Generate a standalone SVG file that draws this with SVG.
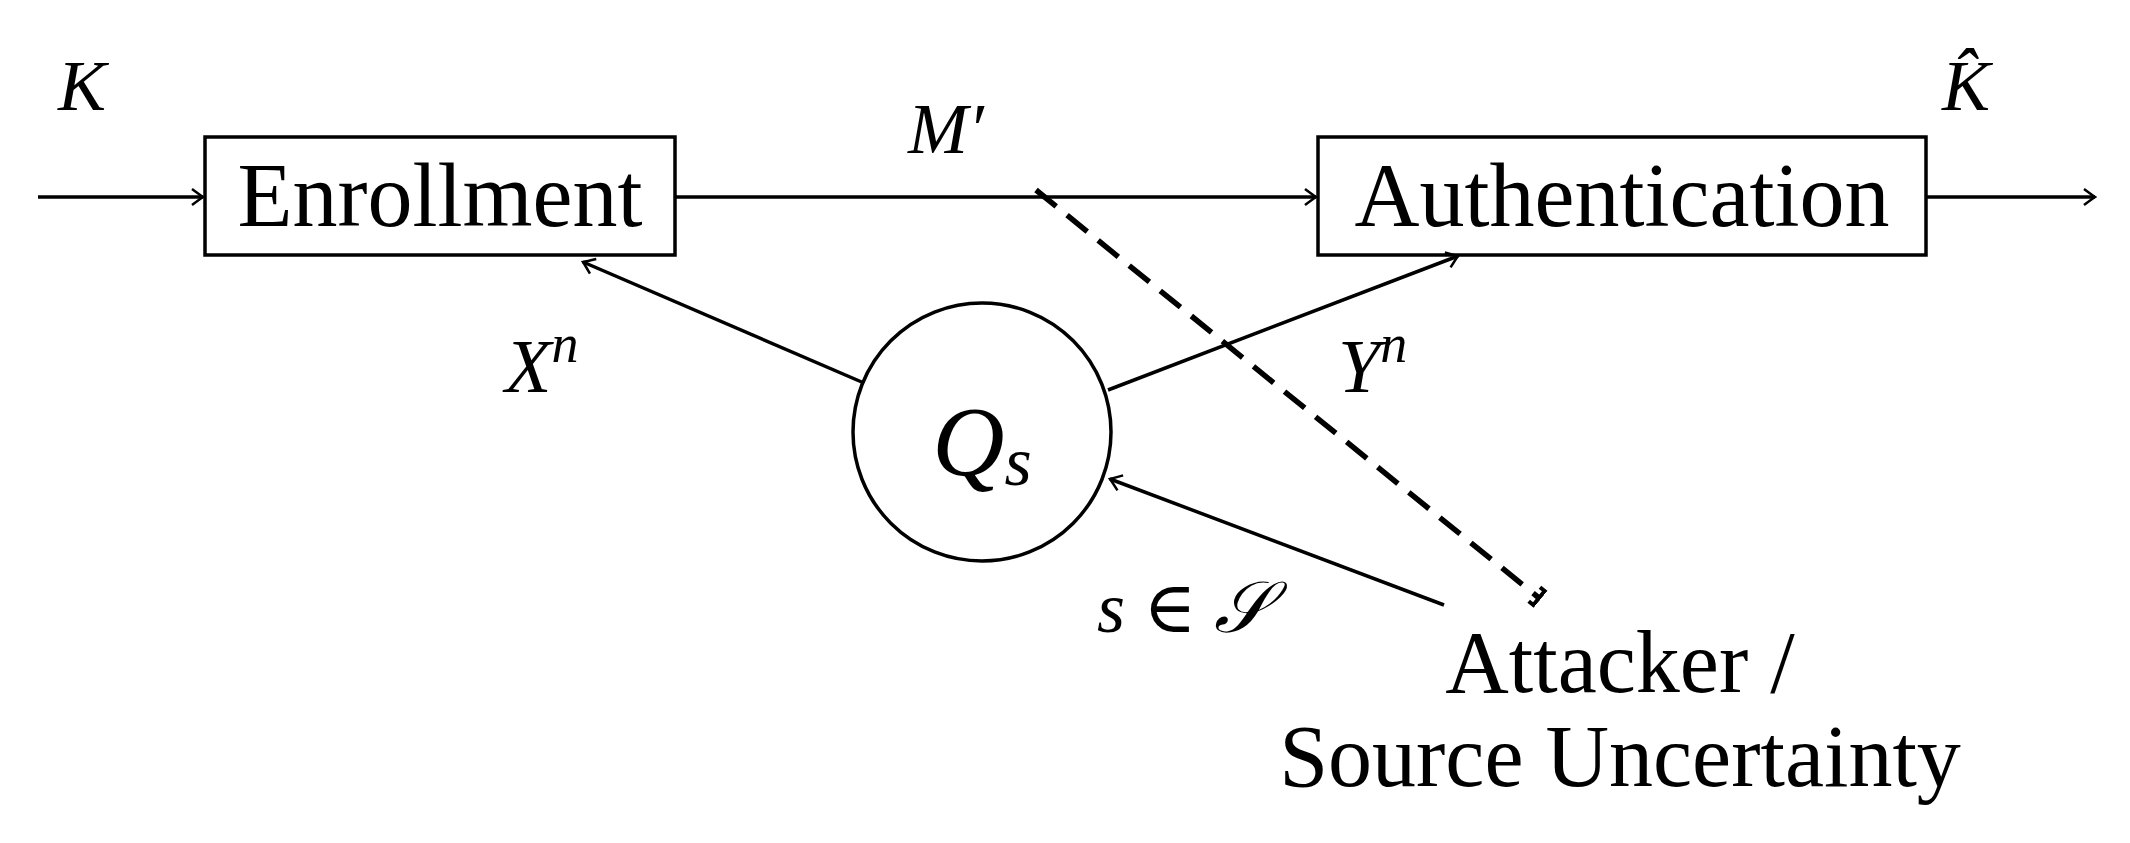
<svg xmlns="http://www.w3.org/2000/svg" width="2130" height="843" viewBox="0 0 2130 843">
<style>
.l{stroke:#000;stroke-width:3.5;fill:none}
.t{font-family:"Liberation Serif","DejaVu Serif",serif;fill:#000}
.m{font-family:"Liberation Serif","DejaVu Serif",serif;font-style:italic;fill:#000}
</style>
<defs>
<marker id="a" viewBox="-12 -10 14 20" markerWidth="14" markerHeight="20" refX="0" refY="0" orient="auto" markerUnits="userSpaceOnUse">
<path d="M-11,-8 Q-3,-2 0,0 Q-3,2 -11,8" fill="none" stroke="#000" stroke-width="2.5"/>
</marker>
<marker id="b" viewBox="-14 -12 16 24" markerWidth="16" markerHeight="24" refX="0" refY="0" orient="auto" markerUnits="userSpaceOnUse">
<path d="M-6,-9 L0,-9 L0,9 L-6,9" fill="none" stroke="#000" stroke-width="4"/>
</marker>
</defs>
<rect width="2130" height="843" fill="#fff"/>
<g id="enrollment"><rect x="205" y="137" width="470" height="118" class="l"/><text x="440" y="226" text-anchor="middle" class="t" font-size="90">Enrollment</text></g>
<g id="authentication"><rect x="1318" y="137" width="608" height="118" class="l"/><text x="1622" y="226" text-anchor="middle" class="t" font-size="90">Authentication</text></g>
<g id="qs"><circle cx="982" cy="432" r="129" class="l"/><text x="982" y="475" text-anchor="middle" class="m" font-size="100">Q<tspan font-size="70" dy="10">s</tspan></text></g>
<g id="attacker"><text x="1620" y="692" text-anchor="middle" class="t" font-size="88">Attacker /</text><text x="1620" y="786" text-anchor="middle" class="t" font-size="88">Source Uncertainty</text></g>
<g id="connectors">
<line x1="38" y1="197" x2="203" y2="197" class="l" marker-end="url(#a)"/>
<line x1="675" y1="197" x2="1316" y2="197" class="l" marker-end="url(#a)"/>
<line x1="1926" y1="197" x2="2095" y2="197" class="l" marker-end="url(#a)"/>
<line x1="864" y1="383" x2="583" y2="262" class="l" marker-end="url(#a)"/>
<line x1="1108" y1="390" x2="1458" y2="256" class="l" marker-end="url(#a)"/>
<line x1="1444" y1="605" x2="1110" y2="479" class="l" marker-end="url(#a)"/>
<line x1="1036" y1="190" x2="1539" y2="598" stroke="#000" stroke-width="5.5" stroke-dasharray="26,14" marker-end="url(#b)"/>
</g>
<g id="labels">
<text x="58" y="110" class="m" font-size="72">K</text>
<text x="1942" y="110" class="m" font-size="72">K̂</text>
<text x="908" y="153" class="m" font-size="72">M′</text>
<text x="505" y="392" class="m" font-size="76">X<tspan font-size="54" dy="-30">n</tspan></text>
<text x="1338" y="392" class="m" font-size="76">Y<tspan font-size="54" dy="-30">n</tspan></text>
<text x="1097" y="632" class="m" font-size="72">s <tspan font-style="normal">∈</tspan> <tspan font-family="DejaVu Serif">𝒮</tspan></text>
</g>
</svg>
